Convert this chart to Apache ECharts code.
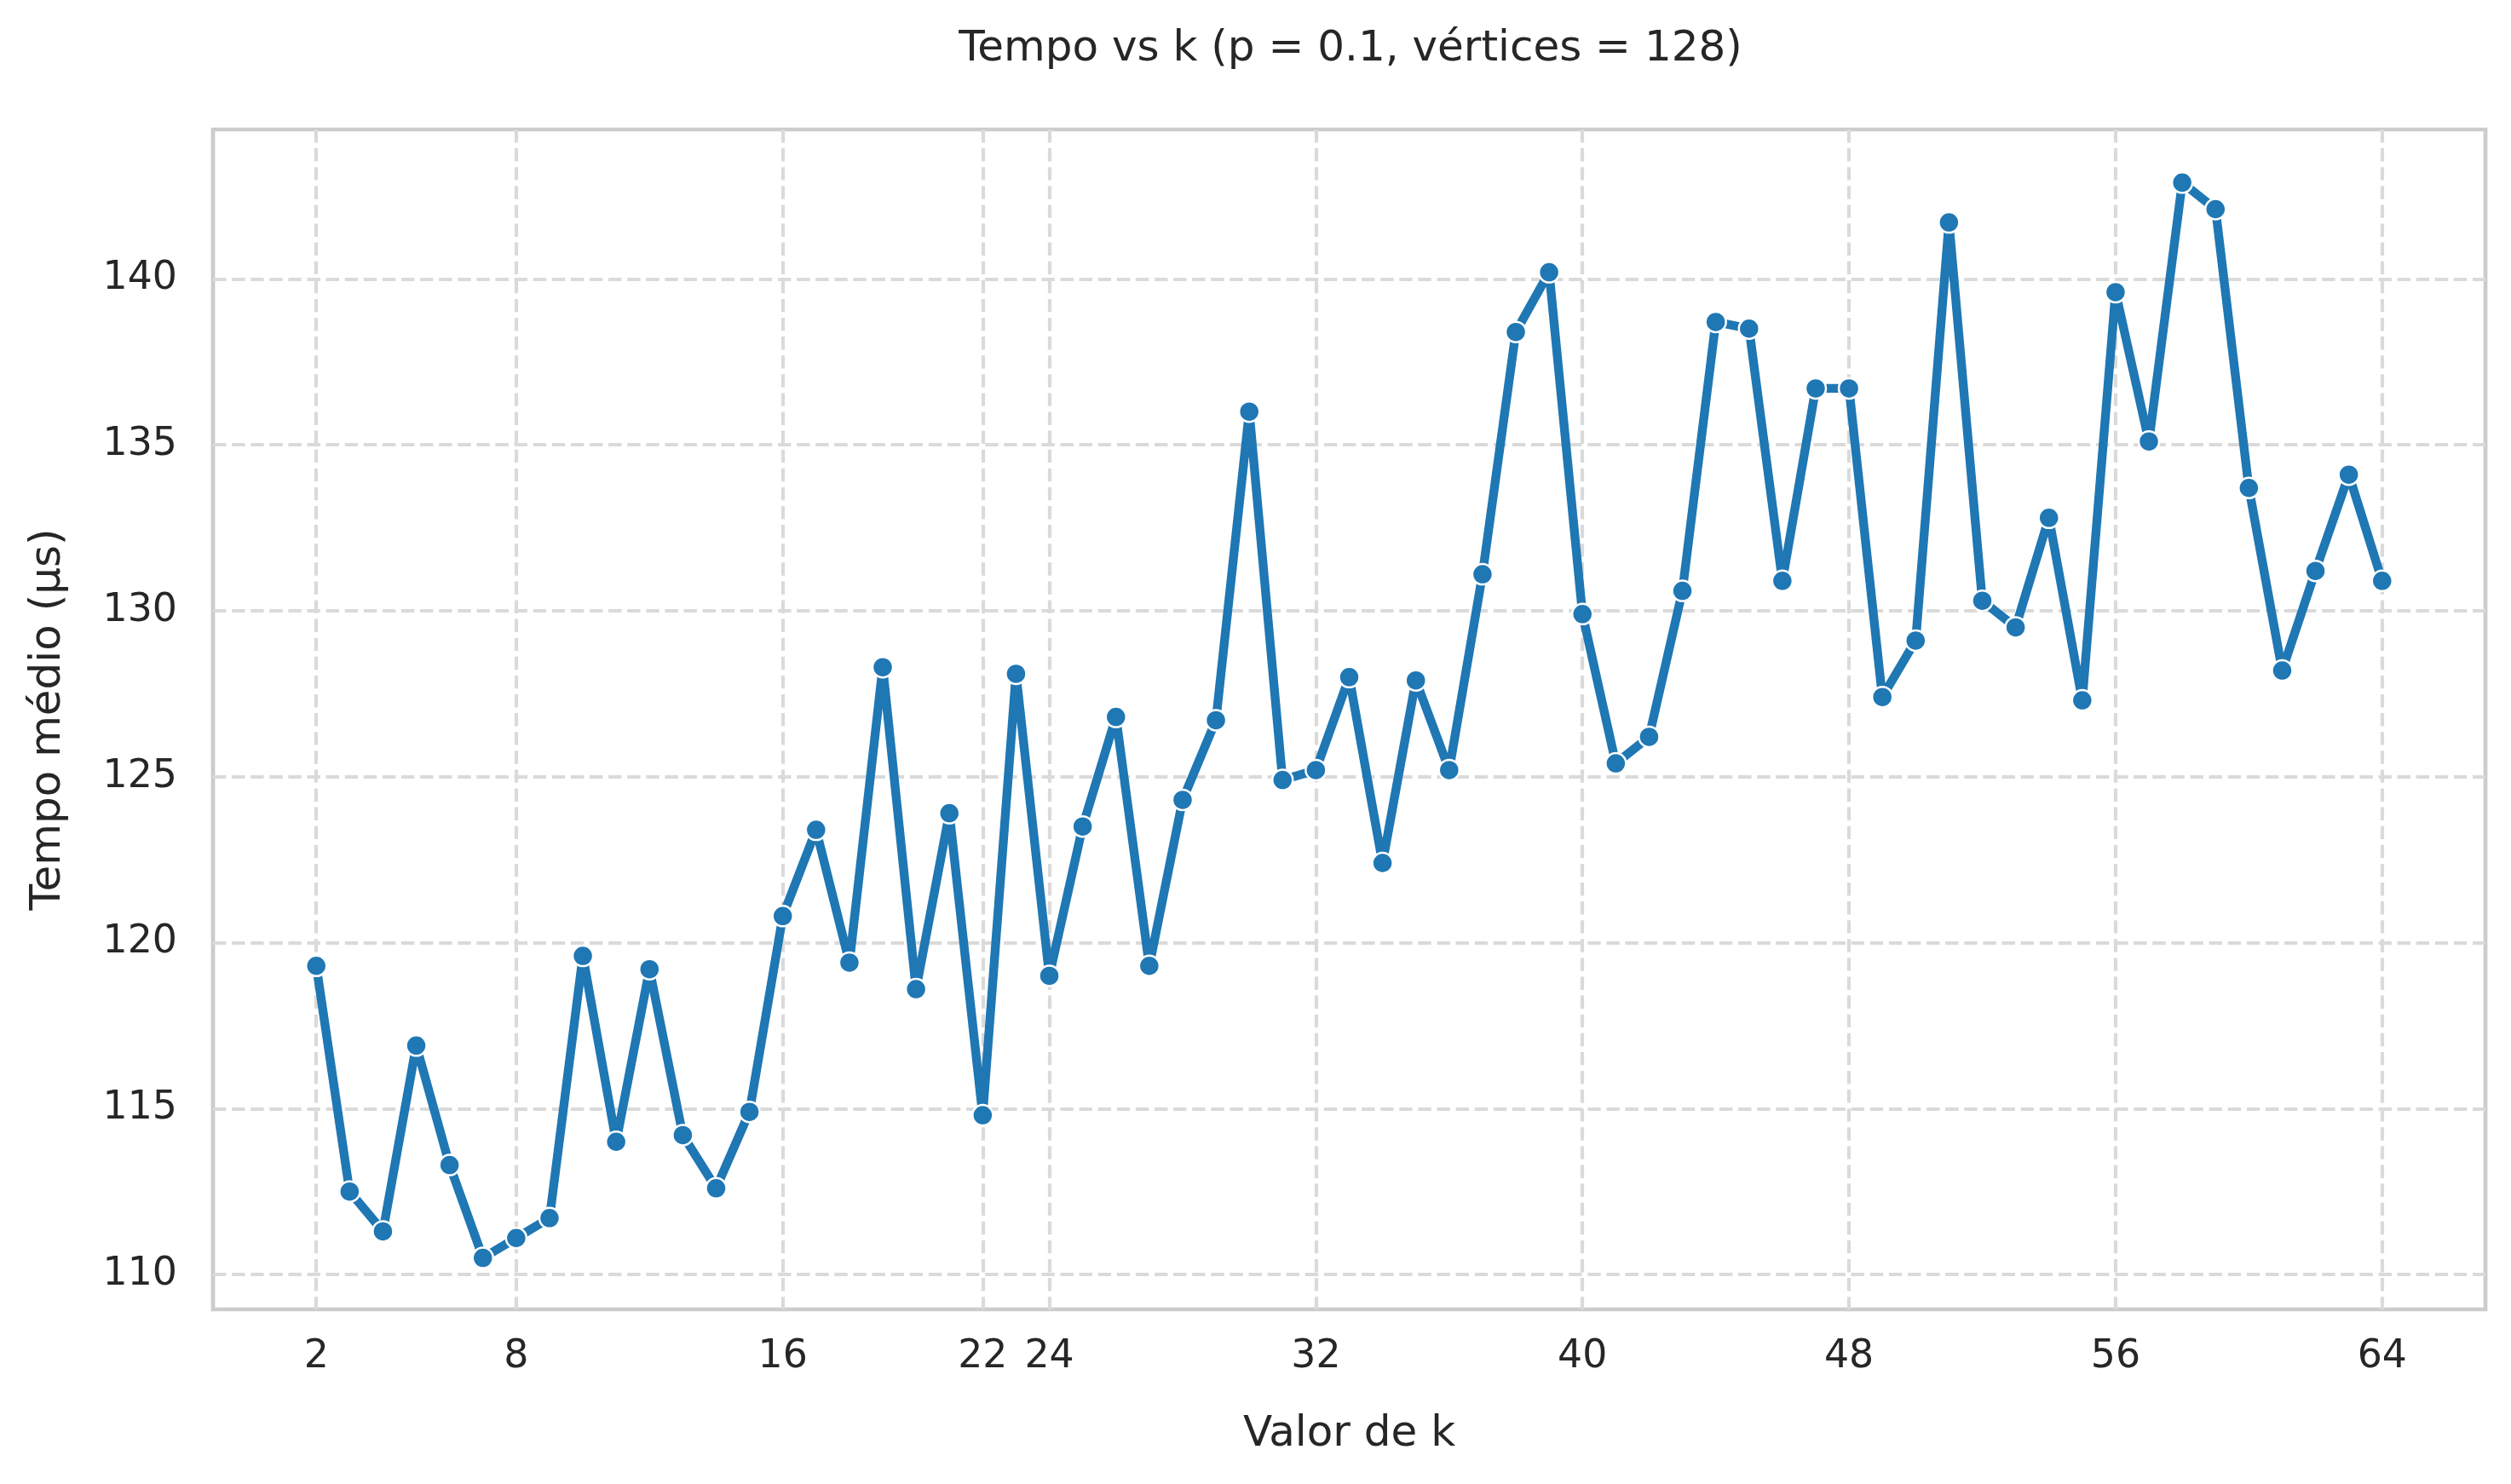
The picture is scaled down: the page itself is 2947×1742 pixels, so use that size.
<!DOCTYPE html>
<html>
<head>
    <meta charset="utf-8">
    <title>Tempo vs k</title>
    <script src="https://cdn.jsdelivr.net/npm/echarts@6/dist/echarts.min.js"></script>
    <style>
        html, body { margin: 0; padding: 0; background: #ffffff; }
        #chart1 { width: 2947px; height: 1742px; }
    </style>
</head>
<body>
<div id="chart1"></div>
<script type="text/javascript">
    // valores de k (eixo x)
    var kValues = [2, 3, 4, 5, 6, 7, 8, 9, 10, 11, 12, 13, 14, 15, 16, 17, 18, 19, 20, 21,
        22, 23, 24, 25, 26, 27, 28, 29, 30, 31, 32, 33, 34, 35, 36, 37, 38, 39, 40, 41,
        42, 43, 44, 45, 46, 47, 48, 49, 50, 51, 52, 53, 54, 55, 56, 57, 58, 59, 60, 61,
        62, 63, 64];
    // tempo médio em µs
    var tempoMedio = [119.3, 112.5, 111.3, 116.9, 113.3, 110.5, 111.1, 111.7, 119.6, 114.0,
        119.2, 114.2, 112.6, 114.9, 120.8, 123.4, 119.4, 128.3, 118.6, 123.9,
        114.8, 128.1, 119.0, 123.5, 126.8, 119.3, 124.3, 126.7, 136.0, 124.9,
        125.2, 128.0, 122.4, 127.9, 125.2, 131.1, 138.4, 140.2, 129.9, 125.4,
        126.2, 130.6, 138.7, 138.5, 130.9, 136.7, 136.7, 127.4, 129.1, 141.7,
        130.3, 129.5, 132.8, 127.3, 139.6, 135.1, 142.9, 142.1, 133.7, 128.2,
        131.2, 134.1, 130.9];
    var xTicks = [2, 8, 16, 22, 24, 32, 40, 48, 56, 64];
    var yTicks = [110, 115, 120, 125, 130, 135, 140];

    var pontos = [];
    for (var i = 0; i < kValues.length; i++) {
        pontos.push([kValues[i], tempoMedio[i]]);
    }

    var corTexto = '#262626';
    var fonte = 'DejaVu Sans';
    var gradeEstilo = {
        color: '#dadada',
        width: 4.2,
        type: [15.4, 6.7]
    };

    var myChart1 = echarts.init(document.getElementById('chart1'), null, {renderer: 'canvas'});
    myChart1.setOption({
        animation: false,
        backgroundColor: '#ffffff',
        title: {
            text: 'Tempo vs k (p = 0.1, vértices = 128)',
            left: 1580,
            top: 28,
            textAlign: 'center',
            textStyle: {
                fontFamily: fonte,
                fontSize: 50,
                fontWeight: 'normal',
                color: corTexto
            }
        },
        grid: {
            left: 250,
            right: 30,
            top: 152,
            bottom: 205,
            show: true,
            borderColor: '#cccccc',
            borderWidth: 4.7,
            backgroundColor: 'transparent'
        },
        xAxis: {
            type: 'value',
            min: -1.1,
            max: 67.1,
            name: 'Valor de k',
            nameLocation: 'middle',
            nameGap: 122,
            nameTextStyle: {fontFamily: fonte, fontSize: 50, color: corTexto},
            axisLine: {show: false},
            axisTick: {show: false, customValues: xTicks},
            axisLabel: {
                customValues: xTicks,
                margin: 33,
                fontFamily: fonte,
                fontSize: 45.8,
                color: corTexto
            },
            splitLine: {show: true, lineStyle: gradeEstilo}
        },
        yAxis: {
            type: 'value',
            min: 108.95,
            max: 144.5,
            name: 'Tempo médio (µs)',
            nameLocation: 'middle',
            nameGap: 168,
            nameRotate: 90,
            nameTextStyle: {fontFamily: fonte, fontSize: 50, color: corTexto},
            axisLine: {show: false},
            axisTick: {show: false, customValues: yTicks},
            axisLabel: {
                customValues: yTicks,
                margin: 42,
                fontFamily: fonte,
                fontSize: 45.8,
                color: corTexto
            },
            splitLine: {show: true, lineStyle: gradeEstilo}
        },
        series: [
            {
                name: 'Tempo médio',
                type: 'line',
                data: pontos,
                symbol: 'circle',
                symbolSize: 24,
                lineStyle: {color: '#1f77b4', width: 10.4, join: 'round'},
                itemStyle: {color: '#1f77b4', borderColor: '#ffffff', borderWidth: 2.5},
                emphasis: {disabled: true}
            }
        ]
    });
</script>
</body>
</html>
